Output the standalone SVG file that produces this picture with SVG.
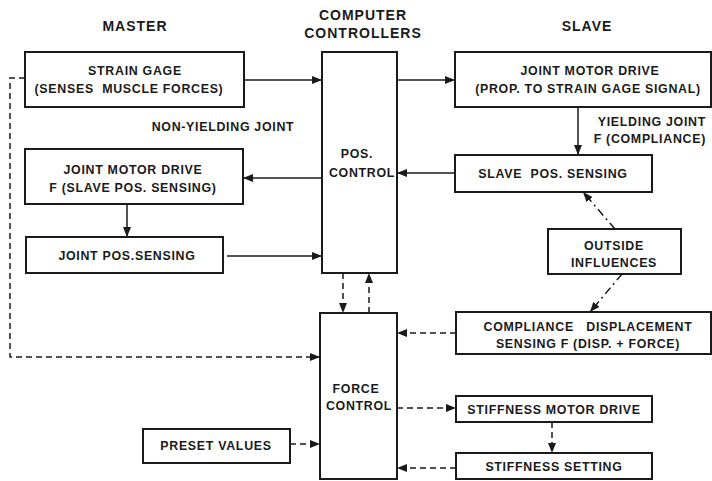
<svg xmlns="http://www.w3.org/2000/svg" width="712" height="481" viewBox="0 0 712 481">
<style>
.box{fill:none;stroke:#1a1a1a;stroke-width:2}
.t{font-family:"Liberation Sans",Arial,sans-serif;font-weight:bold;font-size:12.4px;fill:#1a1a1a;text-anchor:middle;letter-spacing:0.7px;white-space:pre}
.h{font-family:"Liberation Sans",Arial,sans-serif;font-weight:bold;font-size:14px;fill:#1a1a1a;text-anchor:middle;letter-spacing:1px}
.c{fill:none;stroke:#1a1a1a;stroke-width:1.5}
.d{stroke-dasharray:6 4}
.dd{stroke-dasharray:8 4 2 4}
</style>
<defs>
<marker id="a" viewBox="0 0 10 8" refX="10" refY="4" markerWidth="10" markerHeight="8" markerUnits="userSpaceOnUse" orient="auto">
<path d="M0,0 L10,4 L0,8 z" fill="#1a1a1a"/>
</marker>
</defs>
<rect width="712" height="481" fill="#fff"/>
<g id="headers">
<text class="h" x="135" y="31">MASTER</text>
<text class="h" x="363" y="20">COMPUTER</text>
<text class="h" x="363" y="38">CONTROLLERS</text>
<text class="h" x="587" y="31">SLAVE</text>
<text class="t" x="223" y="131">NON-YIELDING JOINT</text>
<text class="t" x="706" y="126" style="text-anchor:end">YIELDING JOINT</text>
<text class="t" x="706" y="143" style="text-anchor:end">F (COMPLIANCE)</text>
</g>
<g id="strain-gage">
<rect class="box" x="25" y="52" width="219" height="55"/>
<text class="t" x="135" y="75">STRAIN GAGE</text>
<text class="t" x="129" y="93">(SENSES  MUSCLE FORCES)</text>
</g>
<g id="pos-control">
<rect class="box" x="322" y="52" width="75" height="221"/>
<text class="t" x="357" y="158">POS.</text>
<text class="t" x="362" y="177">CONTROL</text>
</g>
<g id="slave-joint-motor-drive">
<rect class="box" x="455" y="52" width="256" height="55"/>
<text class="t" x="590" y="75">JOINT MOTOR DRIVE</text>
<text class="t" x="588" y="93">(PROP. TO STRAIN GAGE SIGNAL)</text>
</g>
<g id="slave-pos-sensing">
<rect class="box" x="455" y="155" width="197" height="37"/>
<text class="t" x="553" y="178">SLAVE  POS. SENSING</text>
</g>
<g id="master-joint-motor-drive">
<rect class="box" x="25" y="149" width="218" height="55"/>
<text class="t" x="133" y="174">JOINT MOTOR DRIVE</text>
<text class="t" x="133" y="192">F (SLAVE POS. SENSING)</text>
</g>
<g id="joint-pos-sensing">
<rect class="box" x="26" y="237" width="197" height="36"/>
<text class="t" x="127" y="260">JOINT POS.SENSING</text>
</g>
<g id="outside-influences">
<rect class="box" x="548" y="229" width="133" height="45"/>
<text class="t" x="614" y="250">OUTSIDE</text>
<text class="t" x="614" y="267">INFLUENCES</text>
</g>
<g id="force-control">
<rect class="box" x="320" y="313" width="77" height="166"/>
<text class="t" x="356" y="393">FORCE</text>
<text class="t" x="359" y="410">CONTROL</text>
</g>
<g id="compliance-displacement">
<rect class="box" x="456" y="312" width="255" height="42"/>
<text class="t" x="588" y="331">COMPLIANCE   DISPLACEMENT</text>
<text class="t" x="588" y="348">SENSING F (DISP. + FORCE)</text>
</g>
<g id="stiffness-motor-drive">
<rect class="box" x="456" y="396" width="196" height="26"/>
<text class="t" x="554" y="414">STIFFNESS MOTOR DRIVE</text>
</g>
<g id="stiffness-setting">
<rect class="box" x="456" y="453" width="196" height="26"/>
<text class="t" x="554" y="471">STIFFNESS SETTING</text>
</g>
<g id="preset-values">
<rect class="box" x="143" y="429" width="147" height="34"/>
<text class="t" x="216" y="450">PRESET VALUES</text>
</g>
<g id="connectors">
<path class="c" d="M244,80 H322" marker-end="url(#a)"/>
<path class="c" d="M397,80 H455" marker-end="url(#a)"/>
<path class="c" d="M578,107 V155" marker-end="url(#a)"/>
<path class="c" d="M455,173 H397" marker-end="url(#a)"/>
<path class="c" d="M322,178 H243" marker-end="url(#a)"/>
<path class="c" d="M127,204 V237" marker-end="url(#a)"/>
<path class="c" d="M227,256 H322" marker-end="url(#a)"/>
<path class="c d" d="M25,78 H10 V357 H320" marker-end="url(#a)"/>
<path class="c d" d="M343,273 V313" marker-end="url(#a)"/>
<path class="c d" d="M369,313 V273" marker-end="url(#a)"/>
<path class="c d" d="M456,333 H397" marker-end="url(#a)"/>
<path class="c d" d="M397,408 H456" marker-end="url(#a)"/>
<path class="c d" d="M552,422 V453" marker-end="url(#a)"/>
<path class="c d" d="M456,468 H397" marker-end="url(#a)"/>
<path class="c d" d="M290,444 H320" marker-end="url(#a)"/>
<path class="c dd" d="M615,229 L583,192" marker-end="url(#a)"/>
<path class="c dd" d="M622,274 L590,312" marker-end="url(#a)"/>
</g>
</svg>
